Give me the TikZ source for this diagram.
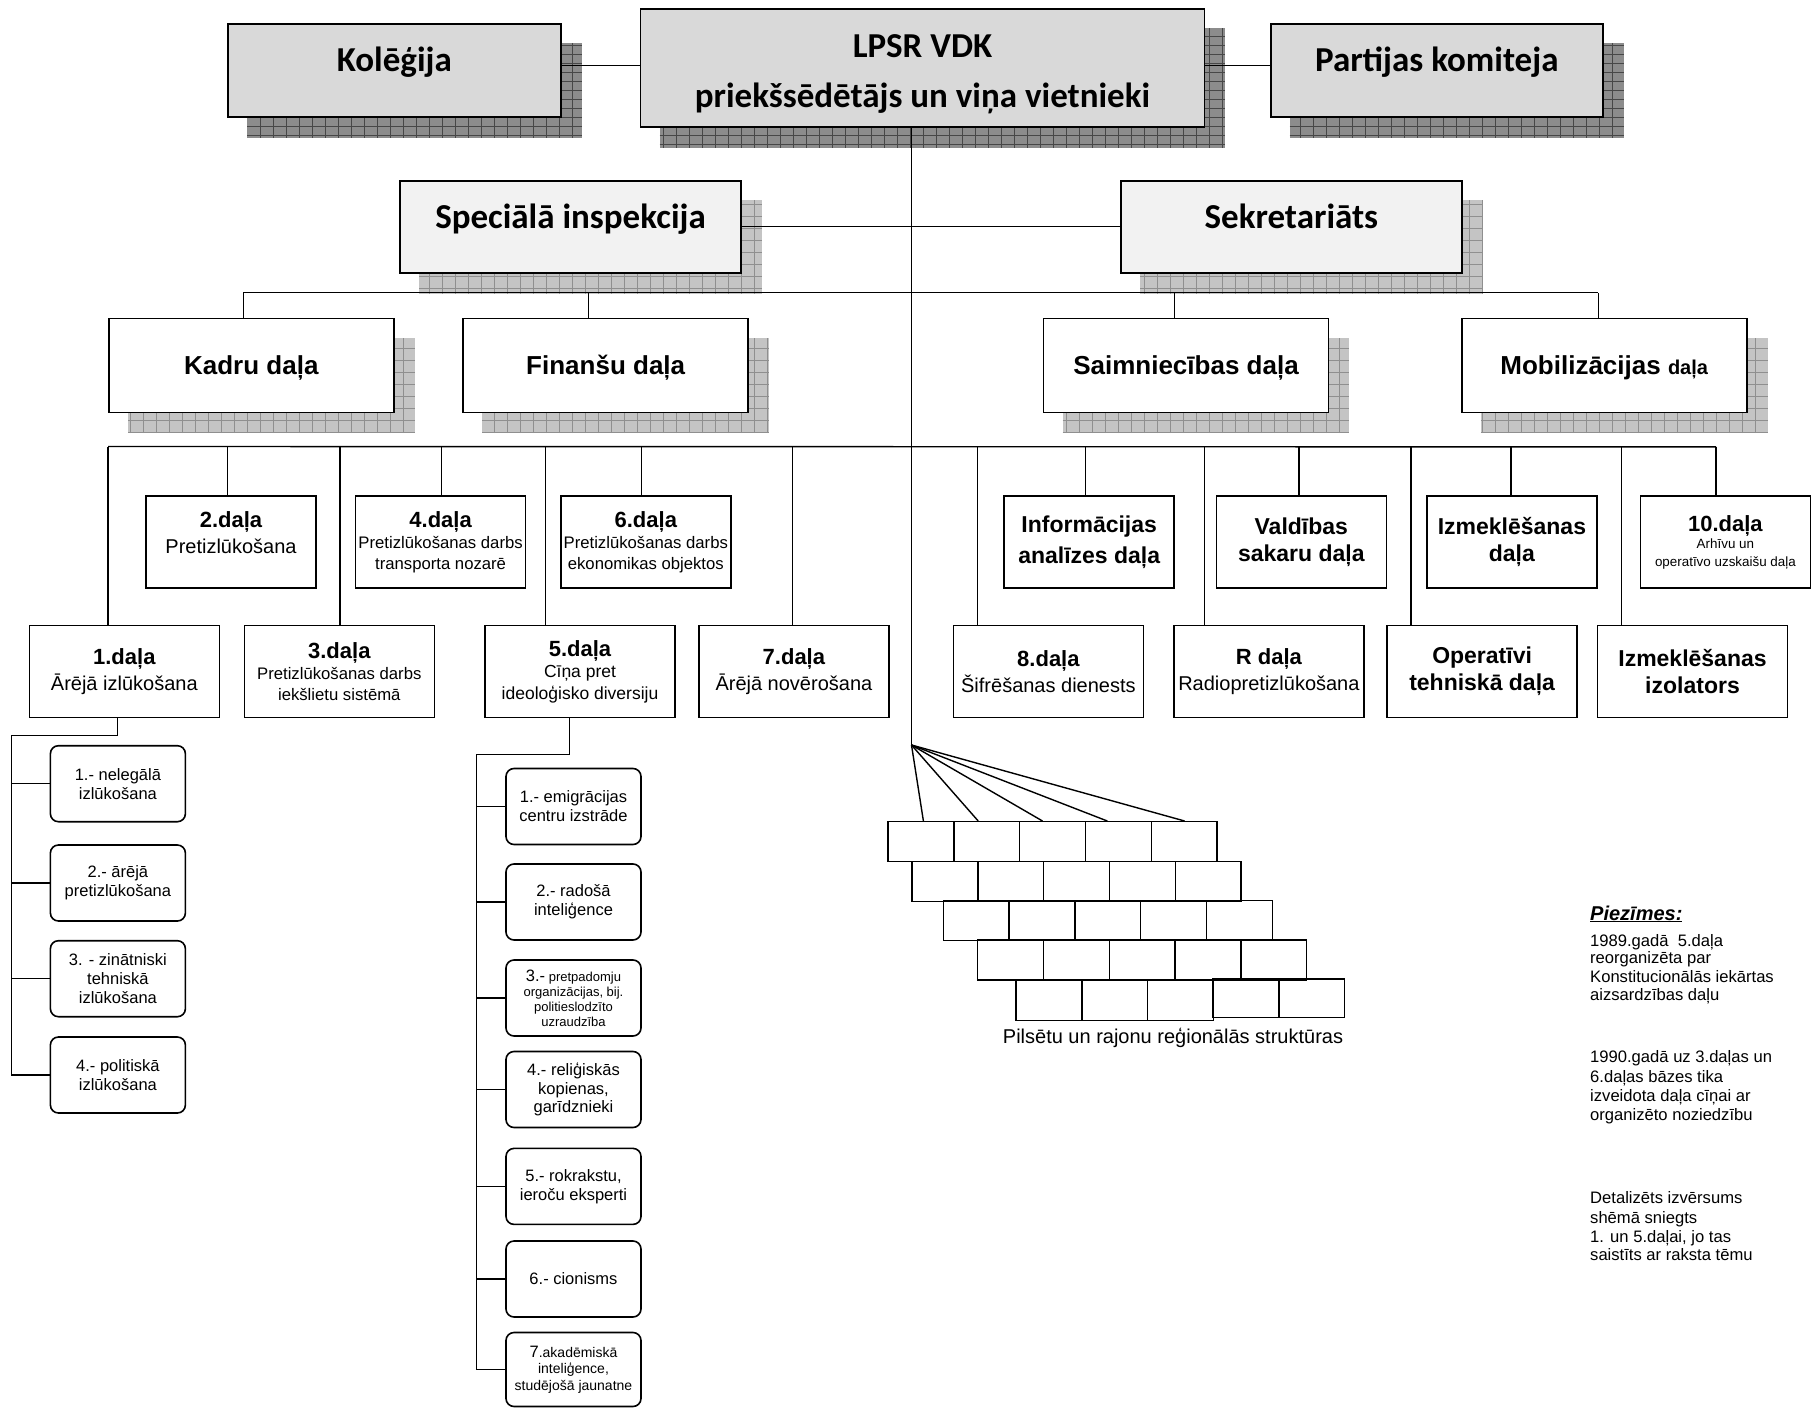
\documentclass[tikz,border=0pt]{standalone}
\usepackage{fontspec}
\setmainfont{Liberation Sans}
\newfontfamily\calfont{Carlito}
\usetikzlibrary{calc, positioning}
\pgfdeclarelayer{background}
\pgfsetlayers{background,main}

\definecolor{topfill}{HTML}{D9D9D9}
\definecolor{midfill}{HTML}{F2F2F2}
\definecolor{darkshade}{HTML}{8C8C8C}
\definecolor{darkgrid}{HTML}{474747}
\definecolor{lightshade}{HTML}{C4C4C4}
\definecolor{lightgrid}{HTML}{8F8F8F}

% hatched drop shadow behind a named box: node, fill, grid colour, y step
\newcommand{\hatchshadow}[4]{%
  \fill[#2] ($(#1.north west)+(20,20)$) rectangle ($(#1.south east)+(20,20)$);
  \draw[#3, line width=0.9pt, xstep=13pt, ystep=#4] ($(#1.north west)+(20,20)$) grid ($(#1.south east)+(20,20)$);
}
\newcommand{\unittitle}[1]{{\bfseries\fontsize{22}{26}\selectfont #1}}

\begin{document}
\begin{tikzpicture}[x=1pt, y=-1pt,
    chief/.style={draw, line width=1.8pt, fill=topfill, inner sep=0pt, align=center,
      font=\calfont\bfseries\fontsize{35}{50}\selectfont},
    chiefline/.style={chief, text height=25pt, text depth=22pt},
    staff/.style={draw, line width=1.8pt, fill=midfill, inner sep=0pt, align=center,
      minimum width=341pt, minimum height=92pt, text height=25pt, text depth=22pt,
      font=\calfont\bfseries\fontsize{35}{42}\selectfont},
    unit/.style={draw, line width=1.6pt, fill=white, inner sep=0pt, align=center,
      minimum width=285pt, minimum height=94pt, text height=25pt, text depth=6pt,
      font=\bfseries\fontsize{26}{31}\selectfont},
    dept/.style={draw, line width=1.6pt, fill=white, inner sep=0pt, align=center,
      minimum width=170pt, minimum height=92pt, font=\fontsize{20}{26}\selectfont},
    lowdept/.style={dept, minimum width=190pt},
    sub/.style={draw, line width=1.6pt, rounded corners=8pt, fill=white, inner sep=0pt, align=center,
      minimum width=135pt, minimum height=76pt, font=\fontsize{16.5}{19}\selectfont},
    brick/.style={draw, line width=1.4pt, inner sep=0pt, minimum width=65.8pt, minimum height=40pt},
    link/.style={line width=1.4pt},
    thinlink/.style={line width=0.8pt},
    note/.style={anchor=base west, inner sep=0pt, font=\fontsize{16.6}{18}\selectfont}]

  \useasboundingbox (0,0) rectangle (1816,1408);

  % leadership
  \node[chiefline, minimum width=332.6pt, minimum height=92.7pt] (kolegija) at (394.3,70.3) {Kolēģija};
  \node[chief, minimum width=564pt, minimum height=117.7pt] (vdk) at (922.5,67.8)
    {\rule{0pt}{35pt}LPSR VDK\\priekšsēdētājs un viņa vietnieki};
  \node[chiefline, minimum width=332.4pt, minimum height=92.7pt] (partija) at (1436.8,70.3) {Partijas komiteja};
  \node[staff] (inspekcija) at (570.5,226.7) {Speciālā inspekcija};
  \node[staff] (sekretariats) at (1291.4,226.7) {Sekretariāts};

  % services
  \node[unit] (kadri) at (251.3,365.3) {Kadru daļa};
  \node[unit] (finanses) at (605.7,365.3) {Finanšu daļa};
  \node[unit] (saimnieciba) at (1186,365.3) {Saimniecības daļa};
  \node[unit] (mobilizacija) at (1604.2,365.3) {Mobilizācijas {\fontsize{20}{24}\selectfont daļa}};

  % upper row of departments
  \node[dept] (d2) at (231,542.2) {\unittitle{2.daļa}\\Pretizlūkošana\rule[-20pt]{0pt}{0pt}};
  \node[dept, font=\fontsize{16.7}{21}\selectfont] (d4) at (440.6,542.2)
    {\unittitle{4.daļa}\\Pretizlūkošanas darbs\\transporta nozarē};
  \node[dept, font=\fontsize{16.7}{21}\selectfont] (d6) at (645.8,542.2)
    {\unittitle{6.daļa}\\Pretizlūkošanas darbs\\ekonomikas objektos};
  \node[dept, font=\bfseries\fontsize{23}{31}\selectfont] (info) at (1089.2,542.2) {Informācijas\\analīzes daļa};
  \node[dept, font=\bfseries\fontsize{23}{27}\selectfont] (vald) at (1301.3,542.2) {Valdības\\sakaru daļa};
  \node[dept, font=\bfseries\fontsize{23}{27}\selectfont] (izmd) at (1511.9,542.2) {Izmeklēšanas\\daļa};
  \node[dept, font=\fontsize{13.4}{17.5}\selectfont] (d10) at (1725.4,542.2)
    {\unittitle{10.daļa}\\Arhīvu un\\operatīvo uzskaišu daļa};

  % lower row of departments
  \node[lowdept] (d1) at (124.3,671.5) {\unittitle{1.daļa}\\Ārējā izlūkošana};
  \node[lowdept, font=\fontsize{16.7}{21}\selectfont] (d3) at (339.3,671.5)
    {\unittitle{3.daļa}\\Pretizlūkošanas darbs\\iekšlietu sistēmā};
  \node[lowdept, font=\fontsize{17.5}{21.5}\selectfont] (d5) at (580,671.5)
    {\unittitle{5.daļa}\\Cīņa pret\\ideoloģisko diversiju};
  \node[lowdept] (d7) at (793.9,671.5) {\unittitle{7.daļa}\\Ārējā novērošana};
  \node[lowdept] (d8) at (1048.4,671.5) {\unittitle{8.daļa}\\Šifrēšanas dienests};
  \node[lowdept] (dr) at (1268.9,671.5) {\unittitle{R daļa}\\Radiopretizlūkošana};
  \node[lowdept, font=\bfseries\fontsize{23}{27}\selectfont] (oper) at (1482.1,671.5) {Operatīvi\\tehniskā daļa};
  \node[lowdept, font=\bfseries\fontsize{23}{27}\selectfont] (izol) at (1692.5,671.5) {Izmeklēšanas\\izolators};

  % 1.dala sections
  \node[sub] (i1) at (117.9,783.7) {1.- nelegālā\\izlūkošana};
  \node[sub] (i2) at (117.9,883) {2.- ārējā\\pretizlūkošana};
  \node[sub] (i3) at (117.9,978.7) {3. - zinātniski\\tehniskā\\izlūkošana};
  \node[sub] (i4) at (117.9,1075) {4.- politiskā\\izlūkošana};

  % 5.dala sections
  \node[sub] (c1) at (573.5,806.5) {1.- emigrācijas\\centru izstrāde};
  \node[sub] (c2) at (573.5,902) {2.- radošā\\inteliģence};
  \node[sub, font=\fontsize{13}{15}\selectfont] (c3) at (573.5,998)
    {{\fontsize{16.5}{17}\selectfont 3.-} pretpadomju\\organizācijas, bij.\\politieslodzīto\\uzraudzība};
  \node[sub, font=\fontsize{16.5}{18.3}\selectfont] (c4) at (573.5,1089.5) {4.- reliģiskās\\kopienas,\\garīdznieki};
  \node[sub] (c5) at (573.5,1186.4) {5.- rokrakstu,\\ieroču eksperti};
  \node[sub] (c6) at (573.5,1279) {6.- cionisms};
  \node[sub, minimum height=74pt, font=\fontsize{14}{16.5}\selectfont] (c7) at (573.5,1369.5)
    {{\fontsize{16.5}{17}\selectfont 7}.akadēmiskā\\inteliģence,\\studējošā jaunatne};

  % regional structures
  \foreach \r/\x/\y in {1/888/841.7, 2/912/881.35, 3/943.3/920.5, 4/977.7/960}
    \foreach \c in {1,...,5}
      \node[brick] (b\r\c) at ({\x+65.8*(\c-0.5)},\y) {};
  \foreach \c in {1,2,3}
    \node[brick] (b5\c) at ({1016+65.8*(\c-0.5)},1000.3) {};
  \foreach \c in {4,5}
    \node[brick, minimum height=38.3pt] (b5\c) at ({1213.3+65.5*(\c-3.5)},998.2) {};
  \node[font=\fontsize{20}{24}\selectfont] (regioni) at (1173,1038) {Pilsētu un rajonu reģionālās struktūras};

  % notes
  \node[note, font=\bfseries\itshape\fontsize{20}{24}\selectfont] (piezimes) at (1590,920) {\underline{Piezīmes:}};
  \foreach \y/\t [count=\i] in {946.5/{1989.gadā\ \ 5.daļa}, 963.5/{reorganizēta par},
      982.5/{Konstitucionālās iekārtas}, 1000.5/{aizsardzības daļu},
      1062.5/{1990.gadā uz 3.daļas un}, 1082.5/{6.daļas bāzes tika},
      1101.5/{izveidota daļa cīņai ar}, 1120.5/{organizēto noziedzību},
      1203.5/{Detalizēts izvērsums}, 1223.5/{shēmā sniegts},
      1242.5/{1. un 5.daļai, jo tas}, 1260.5/{saistīts ar raksta tēmu}}
    \node[note] (piez\i) at (1590,\y) {\t};

  % connectors
  \coordinate (fan) at (911.5,745);
  \coordinate (ispine) at (11.2,735.7);
  \coordinate (cspine) at (476.5,754.3);

  \draw[link] ([yshift=5pt]kolegija.east) -- ([yshift=5pt]kolegija.east -| vdk.west);
  \draw[link] ([yshift=5pt]partija.west) -- ([yshift=5pt]partija.west -| vdk.east);
  \draw[thinlink] (vdk.south -| fan) -- (fan);
  \draw[thinlink] (inspekcija.east) -- (sekretariats.west);

  \draw[link] ([xshift=-8.3pt, yshift=24.8pt]kadri.north) -- ([xshift=-6.2pt, yshift=24.8pt]mobilizacija.north);
  \foreach \n/\dx in {kadri/-8.3, finanses/-17.3, saimnieciba/-11.6, mobilizacija/-6.2}
    \draw[thinlink] ([xshift=\dx pt]\n.north) -- ++(0,-24.8);

  \draw[link] ([xshift=-16.3pt, yshift=178.2pt]d1.north) -- ([xshift=-9.4pt, yshift=48.5pt]d10.north);
  \foreach \n/\dx in {d2/-3.7, d4/0.8, d6/-4.6, info/-4, vald/-2.3, izmd/-0.9, d10/-9.4}
    \draw[link] ([xshift=\dx pt]\n.north) -- ++(0,-48.5);
  \foreach \n/\dx in {d1/-16.3, d3/0.5, d5/-34.7, d7/-1.7, d8/-70.7, dr/-64.6, oper/-71.1, izol/-71.1}
    \draw[link] ([xshift=\dx pt]\n.north) -- ++(0,-178.2);

  \draw[link] ([xshift=-7pt]d1.south) |- (ispine) -- (ispine |- i4.west) -- (i4.west);
  \foreach \s in {i1,i2,i3}
    \draw[link] (ispine |- \s.west) -- (\s.west);
  \draw[link] ([xshift=-10.8pt]d5.south) |- (cspine) -- (cspine |- c7.west) -- (c7.west);
  \foreach \s in {c1,c2,c3,c4,c5,c6}
    \draw[link] (cspine |- \s.west) -- (\s.west);

  \foreach \c/\dx in {1/2.5, 2/-8.5, 3/-10, 4/-11, 5/0.5}
    \draw[link] (fan) -- ([xshift=\dx pt]b1\c.north);

  % shadows
  \begin{pgfonlayer}{background}
    \foreach \n in {kolegija, vdk, partija}
      \hatchshadow{\n}{darkshade}{darkgrid}{9pt};
    \foreach \n in {inspekcija, sekretariats, kadri, finanses, saimnieciba, mobilizacija}
      \hatchshadow{\n}{lightshade}{lightgrid}{12pt};
  \end{pgfonlayer}
\end{tikzpicture}
\end{document}
